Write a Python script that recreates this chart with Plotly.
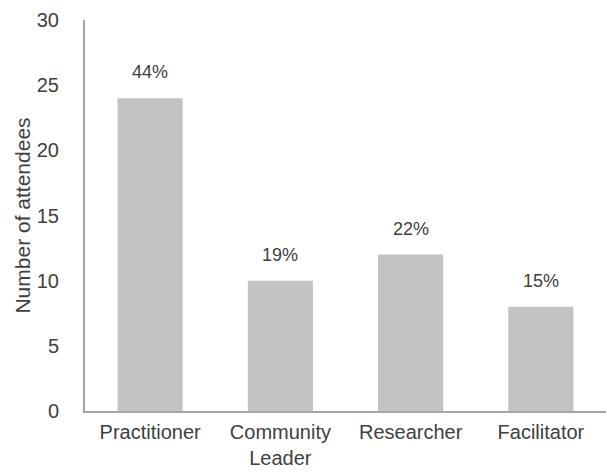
import plotly.graph_objects as go

categories = ["Practitioner", "Community<br>Leader", "Researcher", "Facilitator"]
attendees = [24, 10, 12, 8]
percent_labels = ["44%", "19%", "22%", "15%"]
y_ticks = [0, 5, 10, 15, 20, 25, 30]

FONT = "Liberation Sans, Arial, sans-serif"
TXT = "#404040"

fig = go.Figure(go.Bar(
    x=categories, y=attendees,
    marker=dict(color="#C3C3C3", line=dict(width=0)),
    width=0.5,
))

for c, v, t in zip(categories, attendees, percent_labels):
    fig.add_annotation(x=c, y=v, text=t, showarrow=False, yanchor="bottom",
                       yshift=14, font=dict(family=FONT, size=18, color=TXT))

fig.update_layout(
    width=607, height=472,
    margin=dict(l=85, r=1, t=20, b=61),
    paper_bgcolor="white", plot_bgcolor="white",
    font=dict(family=FONT, size=20, color=TXT),
    showlegend=False,
    bargap=0.5,
)
fig.update_xaxes(showline=True, linecolor="#A6A6A6", linewidth=2, ticks="",
                 tickfont=dict(size=20, color=TXT), ticklabelstandoff=2,
                 automargin=False)
fig.update_yaxes(range=[0, 30], tickvals=y_ticks, showgrid=False, zeroline=False,
                 showline=True, linecolor="#A6A6A6", linewidth=2, ticks="",
                 tickfont=dict(size=20, color=TXT), ticklabelstandoff=20,
                 automargin=False,
                 title=dict(text="Number of attendees", font=dict(size=21, color=TXT),
                            standoff=0))

fig.write_html("out.html")
